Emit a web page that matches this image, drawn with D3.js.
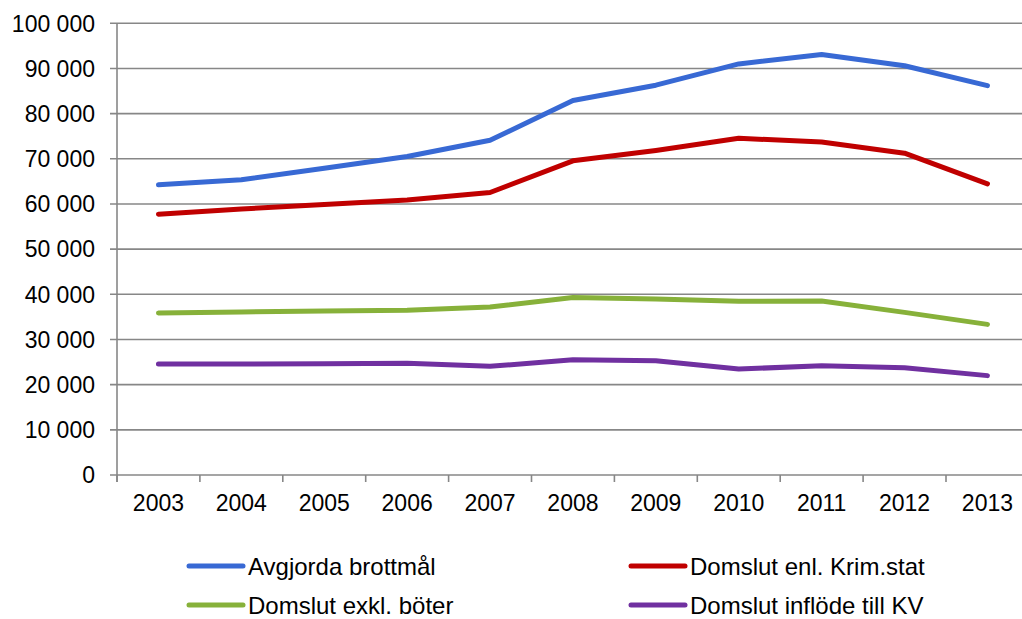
<!DOCTYPE html>
<html>
<head>
<meta charset="utf-8">
<script src="https://cdn.jsdelivr.net/npm/d3@7"></script>
<style>
  body { margin: 0; background: #fff; }
  svg { display: block; font-family: "Liberation Sans", Arial, sans-serif; }
</style>
</head>
<body>
<div id="chart"></div>
<script>
var years = ["2003", "2004", "2005", "2006", "2007", "2008", "2009", "2010", "2011", "2012", "2013"];
var yTicks = [0, 10000, 20000, 30000, 40000, 50000, 60000, 70000, 80000, 90000, 100000];

var avgjorda = [64250, 65350, 67900, 70500, 74100, 82900, 86300, 91000, 93100, 90600, 86200];
var domslutKrim = [57750, 58900, 59900, 60900, 62550, 69550, 71850, 74550, 73700, 71250, 64450];
var domslutExkl = [35850, 36100, 36300, 36500, 37200, 39300, 38950, 38450, 38500, 36000, 33350];
var domslutKV = [24550, 24550, 24650, 24750, 24050, 25500, 25300, 23450, 24200, 23750, 22000];

var seriesNames = ["Avgjorda brottmål", "Domslut enl. Krim.stat", "Domslut exkl. böter", "Domslut inflöde till KV"];
var seriesColors = ["#3869d4", "#c00000", "#87b13a", "#7030a0"];

var my = {
  width: 1022,
  height: 619,
  left: 117,
  top: 23.3,
  bottom: 475,
  band: 82.9
};

var series = [avgjorda, domslutKrim, domslutExkl, domslutKV].map(function(vals, i) {
  return {name: seriesNames[i], color: seriesColors[i], values: vals};
});

var svg = d3.select("#chart").append("svg")
  .attr("width", my.width)
  .attr("height", my.height);

var x = d3.scaleBand()
  .domain(years)
  .range([my.left, my.left + my.band * years.length])
  .paddingInner(0).paddingOuter(0);

var y = d3.scaleLinear()
  .domain([0, 100000])
  .range([my.bottom, my.top]);

var fmt = function(v) {
  return d3.format(",")(v).replace(/,/g, " ");
};

// gridlines + y ticks
svg.append("g").selectAll("line")
  .data(yTicks)
  .enter().append("line")
  .attr("x1", my.left - 7)
  .attr("x2", my.width)
  .attr("y1", function(d) { return y(d); })
  .attr("y2", function(d) { return y(d); })
  .attr("stroke", "#878787")
  .attr("stroke-width", 1.6);

svg.append("g").selectAll("text")
  .data(yTicks)
  .enter().append("text")
  .attr("x", 95)
  .attr("y", function(d) { return y(d); })
  .attr("dy", "0.36em")
  .attr("text-anchor", "end")
  .attr("font-size", 23)
  .attr("fill", "#000")
  .text(fmt);

// y axis line
svg.append("line")
  .attr("x1", my.left).attr("x2", my.left)
  .attr("y1", y(100000)).attr("y2", my.bottom + 7)
  .attr("stroke", "#878787")
  .attr("stroke-width", 1.6);

// x ticks between categories
var boundaries = years.map(function(d) { return x(d); }).concat([x(years[years.length - 1]) + x.bandwidth()]);
svg.append("g").selectAll("line")
  .data(boundaries)
  .enter().append("line")
  .attr("x1", function(d) { return d; })
  .attr("x2", function(d) { return d; })
  .attr("y1", my.bottom)
  .attr("y2", my.bottom + 7)
  .attr("stroke", "#878787")
  .attr("stroke-width", 1.6);

svg.append("g").selectAll("text")
  .data(years)
  .enter().append("text")
  .attr("x", function(d) { return x(d) + x.bandwidth() / 2; })
  .attr("y", 511)
  .attr("text-anchor", "middle")
  .attr("font-size", 23)
  .attr("fill", "#000")
  .text(function(d) { return d; });

// lines
var line = d3.line()
  .x(function(d, i) { return x(years[i]) + x.bandwidth() / 2; })
  .y(function(d) { return y(d); });

svg.append("g").selectAll("path")
  .data(series)
  .enter().append("path")
  .attr("d", function(s) { return line(s.values); })
  .attr("fill", "none")
  .attr("stroke", function(s) { return s.color; })
  .attr("stroke-width", 5)
  .attr("stroke-linecap", "round")
  .attr("stroke-linejoin", "round");

// legend, 2 columns
var legendPos = [[189, 566], [631, 566], [189, 605], [631, 605]];
var legend = svg.append("g").selectAll("g")
  .data(series)
  .enter().append("g")
  .attr("transform", function(s, i) { return "translate(" + legendPos[i][0] + "," + legendPos[i][1] + ")"; });

legend.append("line")
  .attr("x1", 0).attr("x2", 54)
  .attr("y1", 0).attr("y2", 0)
  .attr("stroke", function(s) { return s.color; })
  .attr("stroke-width", 5)
  .attr("stroke-linecap", "round");

legend.append("text")
  .attr("x", 59)
  .attr("y", 9)
  .attr("font-size", 24)
  .attr("fill", "#000")
  .text(function(s) { return s.name; });
</script>
</body>
</html>
